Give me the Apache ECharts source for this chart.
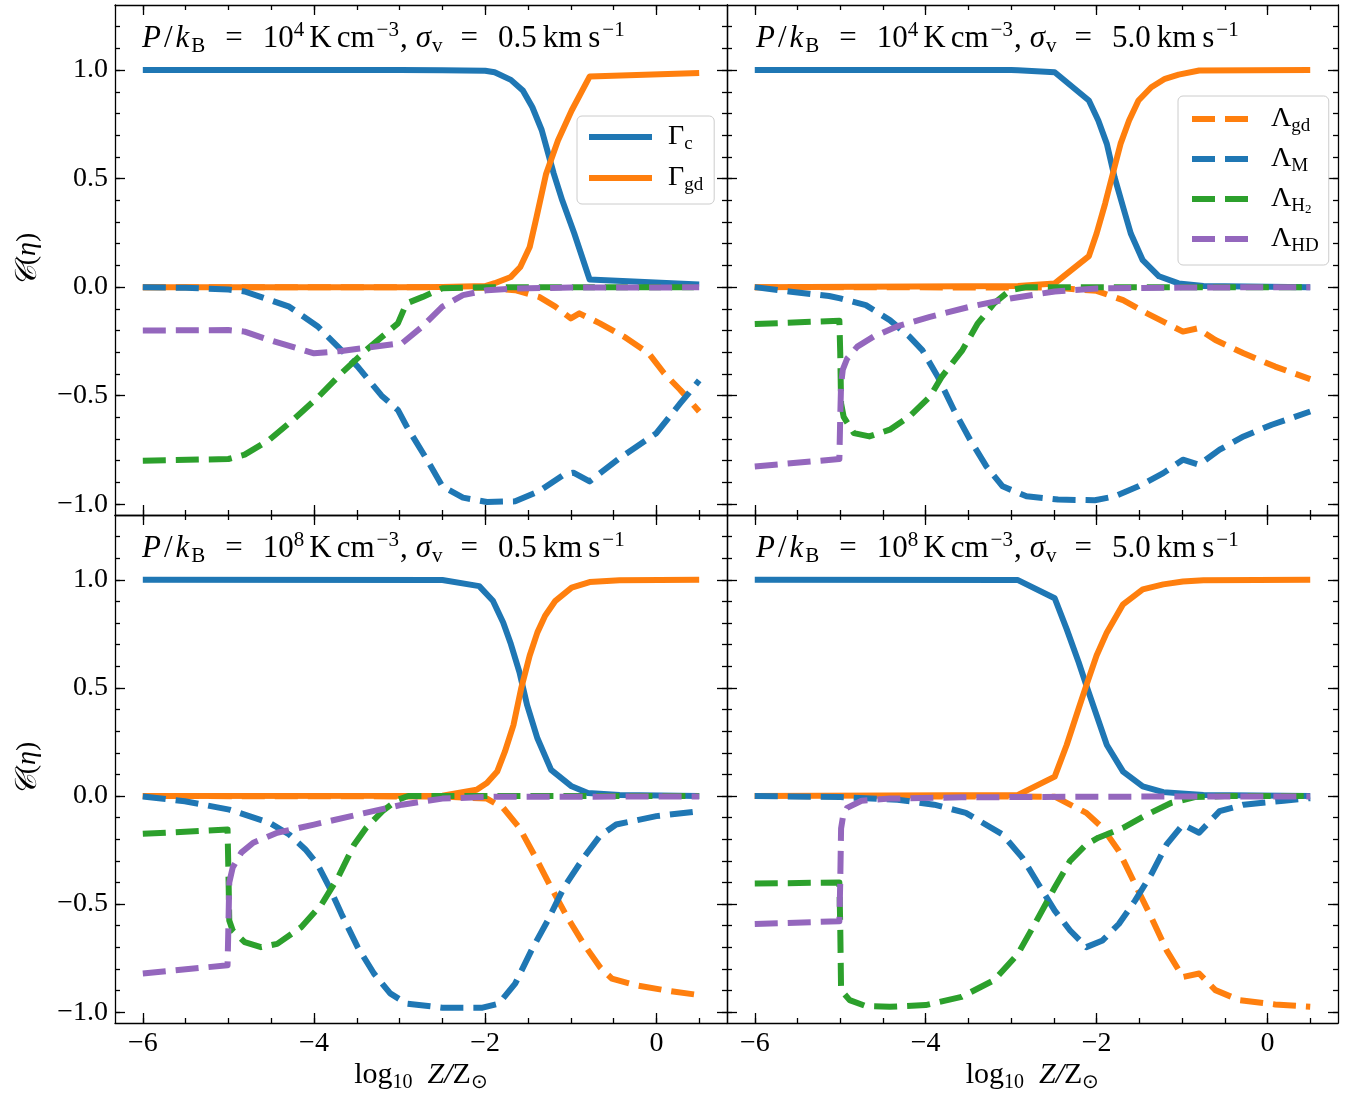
<!DOCTYPE html>
<html><head><meta charset="utf-8">
<script src="https://cdn.jsdelivr.net/npm/echarts@6/dist/echarts.min.js"></script>
<style>html,body{margin:0;padding:0;background:#fff}#c{width:1351px;height:1094px}</style>
</head><body><div id="c"></div>
<script>
const FONT = 'Liberation Serif';
const C_BLUE = '#1f77b4', C_ORANGE = '#ff7f0e', C_GREEN = '#2ca02c', C_PURPLE = '#9467bd';

// axis ticks
const xMajor = [-6, -4, -2, 0];
const xMinor = [-6, -5.5, -5, -4.5, -4, -3.5, -3, -2.5, -2, -1.5, -1, -0.5, 0, 0.5];
const yMajor = [-1, -0.5, 0, 0.5, 1];
const yMinor = [-1.0, -0.9, -0.8, -0.7, -0.6, -0.5, -0.4, -0.3, -0.2, -0.1, 0, 0.1, 0.2, 0.3, 0.4, 0.5, 0.6, 0.7, 0.8, 0.9, 1.0, 1.1, 1.2];
const xRange = [-6.325, 0.825];
const yRange = [-1.05, 1.3];

// panel labels
const panelP = ['4', '4', '8', '8'];
const panelSigma = ['0.5', '5.0', '0.5', '5.0'];

// ---- Panel 1: P/kB = 1e4, sigma = 0.5 ----
const p1_Gc = [[-6,1.0],[-4,1.0],[-3,1.0],[-2.5,0.999],[-2.0,0.997],[-1.89,0.99],[-1.70,0.955],[-1.56,0.906],[-1.45,0.83],[-1.34,0.724],[-1.2,0.524],[-1.1,0.40],[-0.96,0.248],[-0.78,0.035],[0.5,0.012]];
const p1_Ggd = [[-6,0],[-3,0],[-2.5,0.001],[-2.0,0.005],[-1.89,0.018],[-1.70,0.047],[-1.59,0.093],[-1.48,0.185],[-1.40,0.323],[-1.29,0.52],[-1.15,0.676],[-0.99,0.814],[-0.78,0.970],[0.5,0.987]];
const p1_Lgd = [[-6,0],[-3,0],[-2.0,-0.003],[-1.65,-0.014],[-1.37,-0.045],[-1.18,-0.09],[-1.0,-0.144],[-0.90,-0.121],[-0.66,-0.167],[-0.38,-0.228],[-0.09,-0.305],[0.09,-0.397],[0.28,-0.474],[0.5,-0.573]];
const p1_LM = [[-6,0],[-5.5,-0.003],[-5.0,-0.011],[-4.81,-0.02],[-4.29,-0.09],[-3.96,-0.18],[-3.68,-0.29],[-3.49,-0.366],[-3.21,-0.50],[-3.02,-0.566],[-2.92,-0.64],[-2.68,-0.795],[-2.50,-0.918],[-2.26,-0.97],[-1.98,-0.99],[-1.65,-0.987],[-1.37,-0.94],[-1.08,-0.864],[-0.97,-0.855],[-0.78,-0.895],[-0.43,-0.788],[0.0,-0.673],[0.28,-0.535],[0.5,-0.43]];
const p1_LH2 = [[-6,-0.80],[-5.0,-0.792],[-4.81,-0.772],[-4.52,-0.703],[-4.24,-0.61],[-3.96,-0.51],[-3.68,-0.397],[-3.39,-0.29],[-3.02,-0.167],[-2.92,-0.075],[-2.73,-0.045],[-2.5,-0.005],[-2.0,0],[0.5,0]];
const p1_LHD = [[-6,-0.20],[-5.0,-0.198],[-4.81,-0.205],[-4.52,-0.244],[-4.0,-0.305],[-3.68,-0.294],[-2.97,-0.258],[-2.73,-0.18],[-2.50,-0.09],[-2.26,-0.037],[-1.98,-0.014],[-1.65,-0.006],[-1.0,-0.002],[0.5,-0.001]];

// ---- Panel 2: P/kB = 1e4, sigma = 5.0 ----
const p2_Gc = [[-6,1],[-3,1.0],[-2.92,0.999],[-2.49,0.99],[-2.09,0.86],[-1.98,0.768],[-1.88,0.66],[-1.79,0.507],[-1.69,0.369],[-1.60,0.247],[-1.46,0.124],[-1.27,0.05],[-1.04,0.017],[-0.75,0.005],[0.5,0.0]];
const p2_Ggd = [[-6,0],[-2.92,0.005],[-2.49,0.017],[-2.09,0.143],[-2.0,0.247],[-1.9,0.385],[-1.81,0.523],[-1.72,0.66],[-1.62,0.768],[-1.51,0.86],[-1.36,0.921],[-1.20,0.96],[-1.04,0.979],[-0.80,0.998],[0.5,1.0]];
const p2_Lgd = [[-6,0],[-2.5,-0.002],[-2.0,-0.017],[-1.69,-0.06],[-1.41,-0.121],[-1.18,-0.167],[-0.99,-0.205],[-0.82,-0.19],[-0.61,-0.244],[-0.28,-0.305],[0.09,-0.366],[0.5,-0.424]];
const p2_LM = [[-6,0],[-5.6,-0.02],[-5.13,-0.041],[-5.0,-0.052],[-4.70,-0.083],[-4.42,-0.152],[-4.19,-0.228],[-4.04,-0.29],[-3.86,-0.412],[-3.67,-0.566],[-3.48,-0.703],[-3.29,-0.826],[-3.10,-0.918],[-2.82,-0.964],[-2.45,-0.979],[-2.02,-0.982],[-1.79,-0.964],[-1.51,-0.918],[-1.22,-0.857],[-0.99,-0.795],[-0.80,-0.818],[-0.56,-0.749],[-0.28,-0.688],[0.05,-0.634],[0.5,-0.573]];
const p2_LH2 = [[-6,-0.17],[-5.01,-0.155],[-5.0,-0.3],[-4.99,-0.535],[-4.96,-0.598],[-4.84,-0.673],[-4.66,-0.688],[-4.42,-0.657],[-4.19,-0.596],[-3.95,-0.504],[-3.81,-0.412],[-3.57,-0.29],[-3.39,-0.167],[-3.20,-0.075],[-3.01,-0.014],[-2.82,0],[0.5,0]];
const p2_LHD = [[-6,-0.826],[-5.01,-0.792],[-5.0,-0.6],[-4.99,-0.45],[-4.97,-0.38],[-4.92,-0.33],[-4.80,-0.274],[-4.61,-0.228],[-4.33,-0.18],[-3.95,-0.137],[-3.48,-0.09],[-3.01,-0.052],[-2.49,-0.02],[-2.0,-0.006],[-1.0,-0.002],[0.5,0]];

// ---- Panel 3: P/kB = 1e8, sigma = 0.5 ----
const p3_Gc = [[-6,1],[-2.5,0.999],[-2.07,0.971],[-1.91,0.903],[-1.79,0.803],[-1.70,0.703],[-1.60,0.573],[-1.51,0.42],[-1.39,0.267],[-1.23,0.121],[-0.99,0.045],[-0.80,0.014],[-0.43,0.005],[0.5,0]];
const p3_Ggd = [[-6,0],[-2.5,0.001],[-2.10,0.029],[-1.98,0.06],[-1.86,0.113],[-1.77,0.205],[-1.67,0.328],[-1.58,0.497],[-1.48,0.65],[-1.39,0.757],[-1.30,0.834],[-1.18,0.903],[-0.99,0.964],[-0.78,0.99],[-0.43,0.998],[0.5,1.0]];
const p3_Lgd = [[-6,0],[-2.5,-0.002],[-1.98,-0.012],[-1.79,-0.055],[-1.60,-0.147],[-1.41,-0.285],[-1.23,-0.423],[-1.04,-0.561],[-0.85,-0.684],[-0.66,-0.791],[-0.52,-0.845],[-0.24,-0.875],[0.09,-0.898],[0.5,-0.921]];
const p3_LM = [[-6,-0.002],[-5.51,-0.024],[-4.99,-0.063],[-4.52,-0.124],[-4.29,-0.178],[-4.10,-0.247],[-3.96,-0.316],[-3.82,-0.423],[-3.68,-0.545],[-3.49,-0.699],[-3.30,-0.821],[-3.11,-0.913],[-2.92,-0.96],[-2.50,-0.979],[-2.03,-0.979],[-1.84,-0.96],[-1.65,-0.868],[-1.46,-0.714],[-1.27,-0.576],[-1.08,-0.423],[-0.85,-0.285],[-0.66,-0.185],[-0.47,-0.132],[0.0,-0.093],[0.5,-0.07]];
const p3_LH2 = [[-6,-0.175],[-5.01,-0.155],[-5.0,-0.35],[-4.99,-0.576],[-4.95,-0.622],[-4.81,-0.676],[-4.62,-0.699],[-4.43,-0.684],[-4.15,-0.607],[-3.91,-0.50],[-3.72,-0.377],[-3.53,-0.224],[-3.39,-0.147],[-3.20,-0.07],[-3.02,-0.017],[-2.9,0],[0.5,0]];
const p3_LHD = [[-6,-0.821],[-5.01,-0.783],[-5.0,-0.6],[-4.99,-0.40],[-4.95,-0.331],[-4.85,-0.262],[-4.71,-0.216],[-4.43,-0.17],[-4.0,-0.132],[-3.49,-0.086],[-2.97,-0.04],[-2.50,-0.012],[-1.98,-0.004],[0.5,-0.002]];

// ---- Panel 4: P/kB = 1e8, sigma = 5.0 ----
const p4_Gc = [[-6,1],[-2.92,0.999],[-2.49,0.915],[-2.35,0.772],[-2.21,0.619],[-2.12,0.512],[-2.0,0.374],[-1.88,0.236],[-1.69,0.113],[-1.46,0.045],[-1.22,0.018],[-0.75,0.005],[0.5,0]];
const p4_Ggd = [[-6,0],[-2.92,0.005],[-2.49,0.09],[-2.35,0.236],[-2.21,0.405],[-2.12,0.512],[-2.0,0.65],[-1.88,0.757],[-1.69,0.887],[-1.46,0.956],[-1.22,0.979],[-0.99,0.992],[-0.75,0.998],[0.5,1.0]];
const p4_Lgd = [[-6,0],[-2.49,-0.003],[-2.31,-0.04],[-2.12,-0.078],[-1.93,-0.147],[-1.74,-0.254],[-1.55,-0.408],[-1.36,-0.561],[-1.18,-0.714],[-0.99,-0.837],[-0.80,-0.821],[-0.61,-0.898],[-0.33,-0.944],[0.09,-0.964],[0.5,-0.975]];
const p4_LM = [[-6,0],[-5.0,-0.005],[-4.33,-0.017],[-3.90,-0.04],[-3.53,-0.078],[-3.10,-0.178],[-2.87,-0.285],[-2.68,-0.408],[-2.49,-0.53],[-2.31,-0.622],[-2.12,-0.699],[-1.93,-0.668],[-1.74,-0.592],[-1.55,-0.484],[-1.36,-0.362],[-1.18,-0.224],[-0.99,-0.132],[-0.80,-0.17],[-0.56,-0.07],[-0.28,-0.04],[0.19,-0.022],[0.5,-0.01]];
const p4_LH2 = [[-6,-0.405],[-5.01,-0.40],[-5.0,-0.6],[-4.99,-0.898],[-4.89,-0.944],[-4.70,-0.972],[-4.42,-0.975],[-4.0,-0.967],[-3.58,-0.929],[-3.20,-0.852],[-2.92,-0.73],[-2.68,-0.561],[-2.49,-0.423],[-2.31,-0.30],[-2.12,-0.224],[-1.98,-0.193],[-1.69,-0.147],[-1.41,-0.086],[-1.13,-0.032],[-0.85,-0.005],[-0.5,0],[0.5,0]];
const p4_LHD = [[-6,-0.592],[-5.01,-0.579],[-5.0,-0.4],[-4.99,-0.15],[-4.97,-0.101],[-4.92,-0.055],[-4.75,-0.022],[-4.42,-0.012],[-3.58,-0.006],[-2.0,-0.003],[0.5,-0.002]];

const panels = [
  {Gc: p1_Gc, Ggd: p1_Ggd, Lgd: p1_Lgd, LM: p1_LM, LH2: p1_LH2, LHD: p1_LHD},
  {Gc: p2_Gc, Ggd: p2_Ggd, Lgd: p2_Lgd, LM: p2_LM, LH2: p2_LH2, LHD: p2_LHD},
  {Gc: p3_Gc, Ggd: p3_Ggd, Lgd: p3_Lgd, LM: p3_LM, LH2: p3_LH2, LHD: p3_LHD},
  {Gc: p4_Gc, Ggd: p4_Ggd, Lgd: p4_Lgd, LM: p4_LM, LH2: p4_LH2, LHD: p4_LHD}
];

const grids = [
  {left: 115, top: 5, width: 612, height: 510},
  {left: 727, top: 5, width: 611, height: 510},
  {left: 115, top: 515, width: 612, height: 510},
  {left: 727, top: 515, width: 611, height: 510}
];

function makeRich(main, sub, lh, subLh) {
  const base = {fontFamily: FONT, color: '#000', fontWeight: 'normal'};
  return {
    n: Object.assign({}, base, {fontSize: main, lineHeight: lh}),
    i: Object.assign({}, base, {fontSize: main, lineHeight: lh, fontStyle: 'italic'}),
    b: Object.assign({}, base, {fontSize: sub, lineHeight: subLh, verticalAlign: 'bottom'}),
    p: Object.assign({}, base, {fontSize: sub, lineHeight: subLh, verticalAlign: 'top'}),
    ss: Object.assign({}, base, {fontSize: Math.round(sub * 0.7), lineHeight: Math.round(subLh * 0.7), verticalAlign: 'bottom'}),
    c: Object.assign({}, base, {fontSize: main + 2, lineHeight: lh, fontStyle: 'italic'})
  };
}
const richTitle = makeRich(31, 21, 37, 21);
const richLabel = makeRich(28, 19, 34, 19);
const richAxis = makeRich(30, 20, 36, 20);

// title pieces: [style, text, padLeft, padRight]
function titlePieces(pw, sig) {
  return [
    ['i', 'P', 0, 3], ['n', '/', 0, 3], ['i', 'k', 0, 2], ['b', 'B', 0, 20],
    ['n', '=', 0, 20], ['n', '10', 0, 0], ['p', pw, 0, 5], ['n', 'K', 0, 5], ['n', 'cm', 0, 0],
    ['p', '\u22123', 2, 1], ['n', ',', 0, 8], ['i', 'σ', 0, 1], ['b', 'v', 0, 18],
    ['n', '=', 0, 20], ['n', sig, 0, 6], ['n', 'km', 0, 6], ['n', 's', 0, 0], ['p', '\u22121', 2, 0]
  ];
}
function buildRich(pieces, baseRich) {
  let text = '';
  const rich = {};
  pieces.forEach((t, idx) => {
    const nm = 't' + idx;
    rich[nm] = Object.assign({}, baseRich[t[0]], {padding: [0, t[3], 0, t[2]]});
    text += '{' + nm + '|' + t[1] + '}';
  });
  return {text: text, rich: rich};
}

const legendNames = {
  'Gc': '{n|Γ}{b|c}', 'Ggd': '{n|Γ}{b|gd}',
  'Lgd': '{n|Λ}{b|gd}', 'LM': '{n|Λ}{b|M}', 'LH2': '{n|Λ}{b|H}{ss|2}', 'LHD': '{n|Λ}{b|HD}'
};

const fmtY = v => (v < 0 ? '\u2212' : '') + Math.abs(v).toFixed(1);
const fmtX = v => (v < 0 ? '\u2212' : '') + Math.abs(v);
const axisLineStyle = {color: '#000', width: 1.3};

const xAxes = [], yAxes = [];
for (let g = 0; g < 4; g++) {
  const bottomRow = g >= 2, leftCol = (g % 2 === 0);
  const bx = {gridIndex: g, type: 'value', min: xRange[0], max: xRange[1], splitLine: {show: false}};
  xAxes.push(Object.assign({}, bx, {
    position: 'bottom',
    axisLine: {show: true, onZero: false, lineStyle: axisLineStyle},
    axisTick: {show: true, inside: true, length: 10, customValues: xMajor, lineStyle: axisLineStyle},
    axisLabel: {show: bottomRow, customValues: xMajor, formatter: fmtX, margin: 7, fontFamily: FONT, fontSize: 28, color: '#000'},
    name: bottomRow ? '{n|log}{b|10}{n|\u2002}{i|Z/}{n|Z}{b|\u2299}' : '',
    nameLocation: 'middle', nameGap: 34,
    nameTextStyle: {fontFamily: FONT, fontSize: 30, color: '#000', rich: richAxis}
  }));
  xAxes.push(Object.assign({}, bx, {
    position: 'bottom', axisLine: {show: false, onZero: false},
    axisTick: {show: true, inside: true, length: 5, customValues: xMinor, lineStyle: axisLineStyle},
    axisLabel: {show: false}
  }));
  xAxes.push(Object.assign({}, bx, {
    position: 'top', axisLine: {show: true, onZero: false, lineStyle: axisLineStyle},
    axisTick: {show: true, inside: true, length: 10, customValues: xMajor, lineStyle: axisLineStyle},
    axisLabel: {show: false}
  }));
  xAxes.push(Object.assign({}, bx, {
    position: 'top', axisLine: {show: false, onZero: false},
    axisTick: {show: true, inside: true, length: 5, customValues: xMinor, lineStyle: axisLineStyle},
    axisLabel: {show: false}
  }));

  const by = {gridIndex: g, type: 'value', min: yRange[0], max: yRange[1], splitLine: {show: false}};
  yAxes.push(Object.assign({}, by, {
    position: 'left',
    axisLine: {show: true, onZero: false, lineStyle: axisLineStyle},
    axisTick: {show: true, inside: true, length: 10, customValues: yMajor, lineStyle: axisLineStyle},
    axisLabel: {show: leftCol, customValues: yMajor, formatter: fmtY, margin: 7, fontFamily: FONT, fontSize: 28, color: '#000'},
    name: leftCol ? '{c|\uD835\uDC9E}{n|(}{i|η}{n|)}' : '',
    nameLocation: 'middle', nameGap: 70,
    nameTextStyle: {fontFamily: FONT, fontSize: 30, color: '#000', rich: richLabel}
  }));
  yAxes.push(Object.assign({}, by, {
    position: 'left', axisLine: {show: false, onZero: false},
    axisTick: {show: true, inside: true, length: 5, customValues: yMinor, lineStyle: axisLineStyle},
    axisLabel: {show: false}
  }));
  yAxes.push(Object.assign({}, by, {
    position: 'right', axisLine: {show: true, onZero: false, lineStyle: axisLineStyle},
    axisTick: {show: true, inside: true, length: 10, customValues: yMajor, lineStyle: axisLineStyle},
    axisLabel: {show: false}
  }));
  yAxes.push(Object.assign({}, by, {
    position: 'right', axisLine: {show: false, onZero: false},
    axisTick: {show: true, inside: true, length: 5, customValues: yMinor, lineStyle: axisLineStyle},
    axisLabel: {show: false}
  }));
}

const LW = 6;
const DASH = [23, 10];
function mk(name, data, color, dashed, g) {
  return {
    type: 'line', name: name, data: data, xAxisIndex: 4 * g, yAxisIndex: 4 * g,
    symbol: 'none', showSymbol: false, smooth: false, animation: false, silent: true,
    lineStyle: {color: color, width: LW, type: dashed ? DASH : 'solid', cap: 'butt', join: 'round'},
    itemStyle: {color: color}, emphasis: {disabled: true}
  };
}

const series = [];
panels.forEach((p, g) => {
  series.push(mk('Gc', p.Gc, C_BLUE, false, g));
  series.push(mk('Ggd', p.Ggd, C_ORANGE, false, g));
  series.push(mk('Lgd', p.Lgd, C_ORANGE, true, g));
  series.push(mk('LM', p.LM, C_BLUE, true, g));
  series.push(mk('LH2', p.LH2, C_GREEN, true, g));
  series.push(mk('LHD', p.LHD, C_PURPLE, true, g));
});

const titlePos = [[142, 20], [756, 20], [142, 530], [756, 530]];
const titles = panelP.map((pw, k) => {
  const r = buildRich(titlePieces(pw, panelSigma[k]), richTitle);
  return {
    left: titlePos[k][0], top: titlePos[k][1], padding: 0,
    text: r.text,
    textStyle: {fontFamily: FONT, fontSize: 31, fontWeight: 'normal', color: '#000', rich: r.rich}
  };
});

const legendBase = {
  orient: 'vertical', align: 'left', itemWidth: 63, itemHeight: 14,
  backgroundColor: 'rgba(255,255,255,0.8)', borderColor: '#cccccc', borderWidth: 1, borderRadius: 5,
  selectedMode: false,
  lineStyle: {width: LW},
  itemStyle: {opacity: 0, color: 'rgba(0,0,0,0)', borderWidth: 0},
  formatter: name => legendNames[name],
  textStyle: {fontFamily: FONT, fontSize: 28, color: '#000', lineHeight: 34, padding: [0, 0, 0, 11], rich: richLabel}
};

const option = {
  backgroundColor: '#fff',
  animation: false,
  title: titles,
  grid: grids,
  xAxis: xAxes,
  yAxis: yAxes,
  legend: [
    Object.assign({}, legendBase, {left: 577, top: 116, itemGap: 7, padding: [4, 11, 9, 9], data: ['Gc', 'Ggd']}),
    Object.assign({}, legendBase, {left: 1178, top: 96, itemGap: 6, padding: [6, 10, 9, 11], data: ['Lgd', 'LM', 'LH2', 'LHD']})
  ],
  series: series
};

const chart = echarts.init(document.getElementById('c'), null, {renderer: 'canvas'});
chart.setOption(option);
</script>
</body></html>
